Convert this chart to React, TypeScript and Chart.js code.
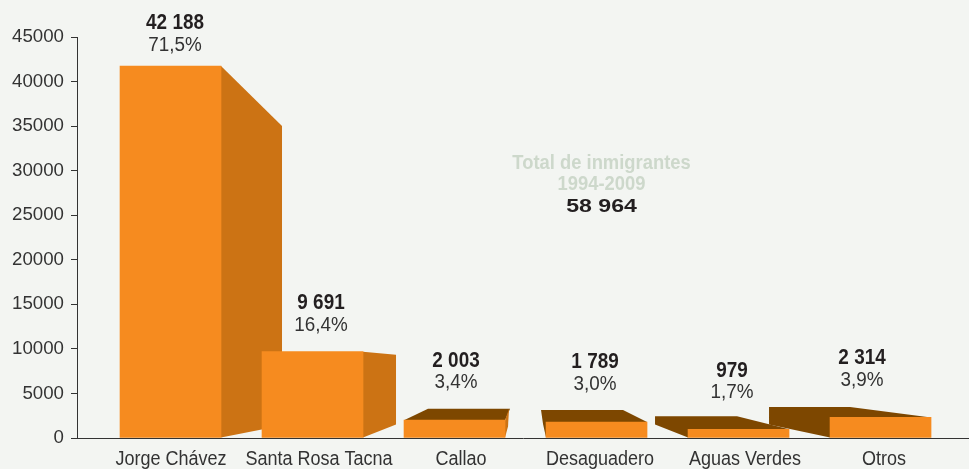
import React, { useEffect, useRef } from "react";
import { Chart, registerables } from "chart.js";

Chart.register(...registerables);

const categories = ["Jorge Chávez", "Santa Rosa Tacna", "Callao", "Desaguadero", "Aguas Verdes", "Otros"];
// Heights as drawn in the picture (the first bar is drawn a little lower than its printed label)
const barValues = [41750, 9691, 2003, 1789, 979, 2314];
const valueLabels = ["42 188", "9 691", "2 003", "1 789", "979", "2 314"];
const percentLabels = ["71,5%", "16,4%", "3,4%", "3,0%", "1,7%", "3,9%"];
const yTicks = [0, 5000, 10000, 15000, 20000, 25000, 30000, 35000, 40000, 45000];
const totalTitle = ["Total de inmigrantes", "1994-2009"];
const totalValue = "58 964";

const BG = "#F3F5F2";
const ORANGE = "#F68B1F";
const SIDE = "#CC7314";
const DARK = "#7D4700";
const INK = "#333333";

type P = [number, number];
type Face = { color: string; pts: (L: number, R: number, T: number, B: number) => P[] };

const depthFaces: Face[][] = [
  [{ color: SIDE, pts: (L, R, T, B) => [[R, T], [R + 61, T + 60], [R + 61, B - 12], [R, B]] }],
  [{ color: SIDE, pts: (L, R, T, B) => [[R, T], [R + 33, T + 3], [R + 33, B - 13], [R, B]] }],
  [
    { color: DARK, pts: (L, R, T, B) => [[L, T], [L + 24, T - 11.5], [R + 5, T - 11.5], [R, T]] },
    { color: SIDE, pts: (L, R, T, B) => [[R, T], [R + 4, T - 11.5], [R + 3, B - 11], [R, B]] },
  ],
  [{ color: DARK, pts: (L, R, T, B) => [[L - 5, T - 12], [L + 77, T - 12], [R, T], [L, T], [L, B], [L - 3, T + 2]] }],
  [{ color: DARK, pts: (L, R, T, B) => [[L - 33, T - 13], [L + 49, T - 13], [R, T], [L, T], [L, B], [L - 33, B - 13]] }],
  [{ color: DARK, pts: (L, R, T, B) => [[L - 61, T - 10.5], [L + 20, T - 10.5], [R, T], [L, T], [L, B], [L - 61, B - 13]] }],
];

// Text nudges relative to each bar's centre / top
const valueNudgeX = [4.5, 8.5, 1.5, -1.5, -6.5, -18.5];
const valueNudgeY = [-43, -48.5, -59.5, -59.5, -58.5, -59.5];
const categoryNudgeX = [0.5, 6.5, 6.5, 3.5, 6.5, 3.5];

function text(ctx: CanvasRenderingContext2D, s: string, x: number, y: number, font: string, color: string, sx = 1) {
  ctx.save();
  ctx.translate(x, y);
  ctx.scale(sx, 1);
  ctx.font = font;
  ctx.fillStyle = color;
  ctx.textAlign = "center";
  ctx.textBaseline = "middle";
  ctx.fillText(s, 0, 0);
  ctx.restore();
}

const depthPlugin = {
  id: "depth",
  beforeDatasetsDraw(chart: any) {
    const { ctx } = chart;
    chart.getDatasetMeta(0).data.forEach((bar: any, i: number) => {
      const L = bar.x - bar.width / 2;
      const R = bar.x + bar.width / 2;
      depthFaces[i].forEach((f) => {
        ctx.beginPath();
        f.pts(L, R, bar.y, bar.base).forEach(([x, y], k) => (k ? ctx.lineTo(x, y) : ctx.moveTo(x, y)));
        ctx.closePath();
        ctx.fillStyle = f.color;
        ctx.fill();
      });
    });
  },
  afterDatasetsDraw(chart: any) {
    const { ctx, chartArea } = chart;
    chart.getDatasetMeta(0).data.forEach((bar: any, i: number) => {
      const cx = bar.x + valueNudgeX[i];
      const cy = bar.y + valueNudgeY[i];
      text(ctx, valueLabels[i], cx, cy, "bold 21.5px 'Liberation Sans'", "#231F20", 0.88);
      text(ctx, percentLabels[i], cx, cy + 22, "20.5px 'Liberation Sans'", INK, 0.92);
      text(ctx, categories[i], bar.x + categoryNudgeX[i], chartArea.bottom + 21.5, "20px 'Liberation Sans'", INK, 0.9);
    });
    const mid = chart.scales.x.getPixelForValue(2.0) + 147;
    text(ctx, totalTitle[0], mid, 163, "bold 21px 'Liberation Sans'", "#CDD8CB", 0.875);
    text(ctx, totalTitle[1], mid, 184, "bold 21px 'Liberation Sans'", "#CDD8CB", 0.875);
    text(ctx, totalValue, mid, 206.5, "bold 18.5px 'Liberation Sans'", "#231F20", 1.25);
  },
};

export default function App() {
  const ref = useRef<HTMLCanvasElement>(null);
  useEffect(() => {
    document.body.style.margin = "0";
    document.body.style.background = BG;
    const chart = new Chart(ref.current!, {
      type: "bar",
      data: {
        datasets: [
          {
            data: barValues.map((v, i) => ({ x: i, y: v })),
            backgroundColor: ORANGE,
            barThickness: 101,
          },
        ],
      },
      options: {
        animation: false,
        responsive: false,
        layout: { padding: { top: 37, left: 0, right: 0, bottom: 0 } },
        plugins: { legend: { display: false }, tooltip: { enabled: false } },
        scales: {
          x: {
            type: "linear",
            offset: false,
            min: -0.6585,
            max: 5.623,
            afterFit: (s: any) => { s.height = 31; },
            ticks: { display: false },
            grid: { display: true, drawOnChartArea: false, drawTicks: false, tickLength: 0 },
            border: { display: true, color: INK, width: 1 },
          },
          y: {
            min: 0,
            max: 45000,
            afterFit: (s: any) => { s.width = 77; },
            afterBuildTicks: (s: any) => { s.ticks = yTicks.map((value) => ({ value })); },
            ticks: {
              color: INK,
              padding: 7,
              font: { family: "'Liberation Sans'", size: 18.7 },
              callback: (v: any) => String(v),
            },
            grid: { drawOnChartArea: false, drawTicks: true, tickLength: 6, color: INK },
            border: { display: true, color: INK, width: 1 },
          },
        },
      } as any,
      plugins: [depthPlugin],
    });
    return () => chart.destroy();
  }, []);
  return (
    <div style={{ width: 969, height: 469, background: BG }}>
      <canvas ref={ref} width={969} height={469} style={{ display: "block" }} />
    </div>
  );
}
